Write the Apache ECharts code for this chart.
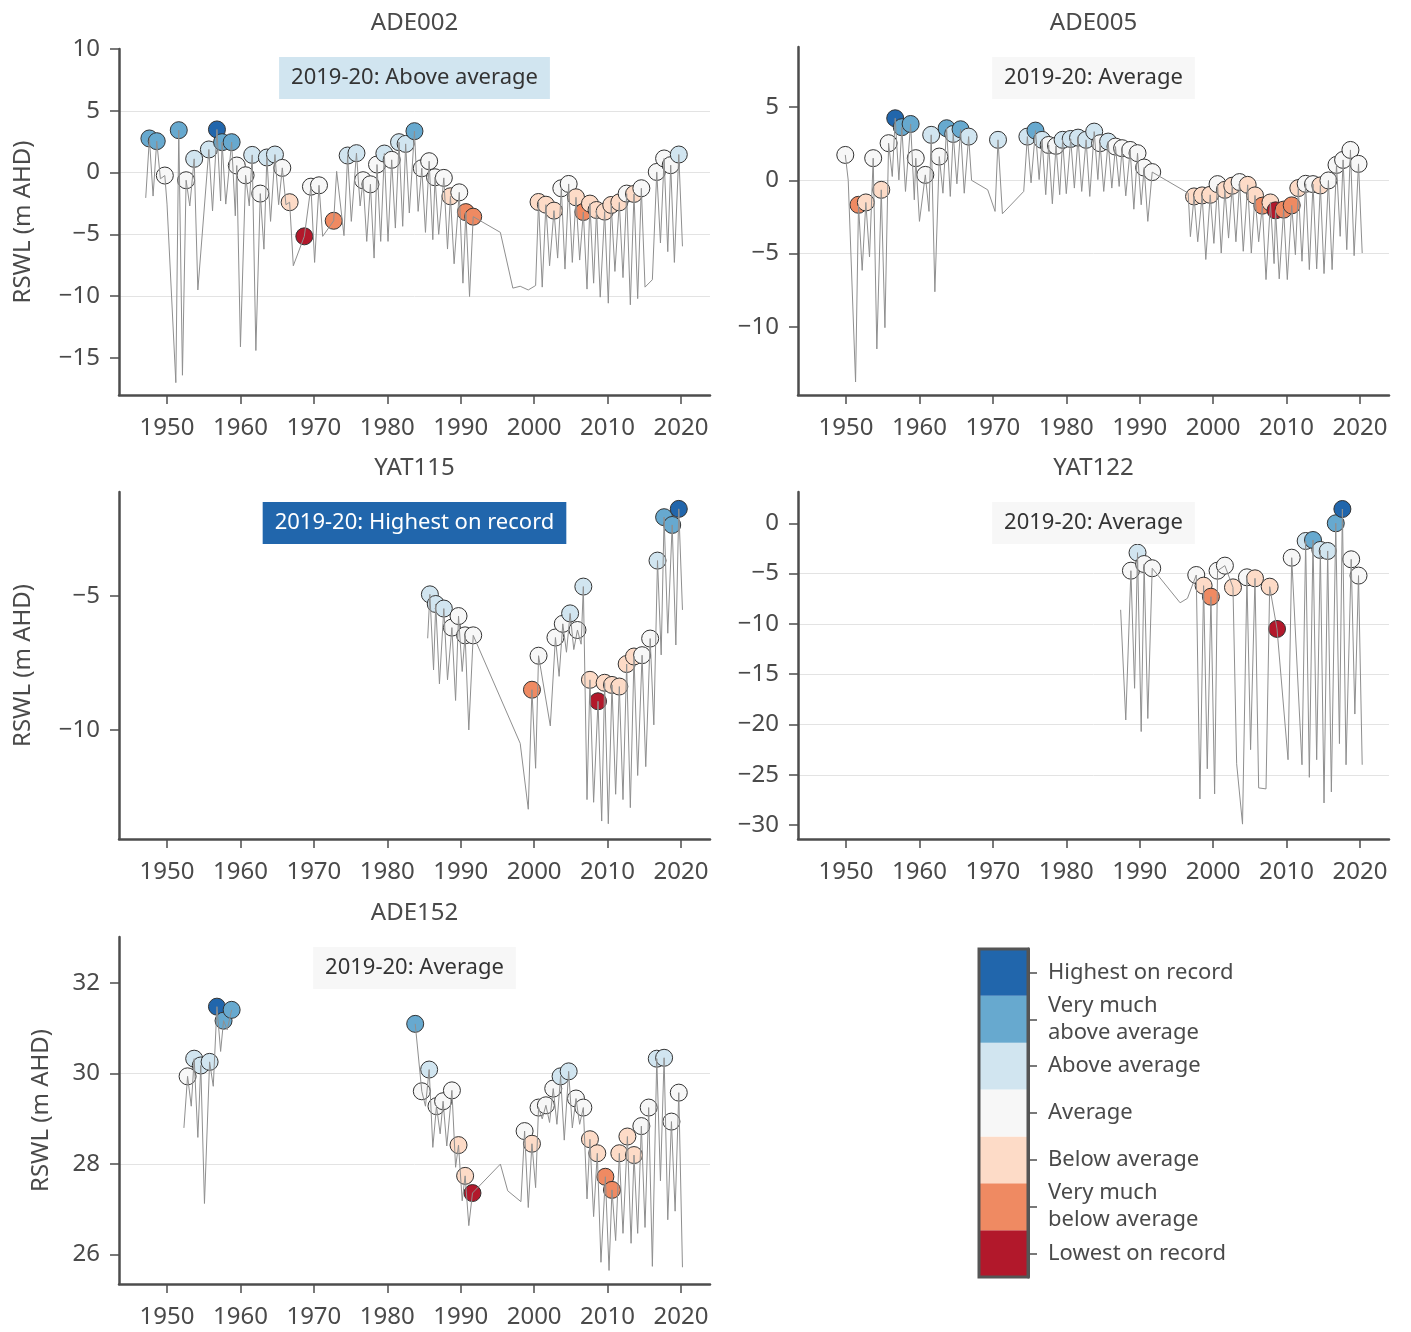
<!DOCTYPE html>
<html>
<head>
<meta charset="utf-8">
<script src="https://cdn.jsdelivr.net/npm/echarts@6/dist/echarts.min.js"></script>
<style>
  html, body { margin: 0; padding: 0; background: #fff; }
  #chart { width: 1411px; height: 1332px; }
</style>
</head>
<body>
<div id="chart"></div>
<script>
// ---- Rating classes (lowest -> highest) ----
const classLabels = ['Lowest on record', 'Very much below average', 'Below average', 'Average',
  'Above average', 'Very much above average', 'Highest on record'];
const legendLabels = ['Lowest on record', 'Very much\nbelow average', 'Below average', 'Average',
  'Above average', 'Very much\nabove average', 'Highest on record'];
const latestPeriod = '2019-20';

// ---- Shared tick labels ----
const yearTicks = [1950, 1960, 1970, 1980, 1990, 2000, 2010, 2020];
const ade002Ticks = [-15, -10, -5, 0, 5, 10];
const ade005Ticks = [-10, -5, 0, 5];
const yat115Ticks = [-10, -5];
const yat122Ticks = [-30, -25, -20, -15, -10, -5, 0];
const ade152Ticks = [26, 28, 30, 32];

// ---- ADE002 ----
const ade002Years = [1947.6, 1948.6, 1949.7, 1951.6, 1952.6, 1953.7, 1955.7, 1956.8, 1957.5, 1958.8,
  1959.5, 1960.7, 1961.6, 1962.7, 1963.6, 1964.7, 1965.7, 1966.7, 1968.7, 1969.6,
  1970.7, 1972.7, 1974.6, 1975.8, 1976.7, 1977.7, 1978.6, 1979.6, 1980.6, 1981.6,
  1982.5, 1983.7, 1984.7, 1985.7, 1986.5, 1987.7, 1988.6, 1989.8, 1990.7, 1991.7,
  2000.6, 2001.6, 2002.7, 2003.7, 2004.7, 2005.7, 2006.7, 2007.6, 2008.5, 2009.6,
  2010.5, 2011.6, 2012.6, 2013.6, 2014.6, 2016.7, 2017.7, 2018.6, 2019.7];
const ade002Levels = [2.76, 2.54, -0.24, 3.43, -0.62, 1.11, 1.87, 3.49, 2.46, 2.46,
  0.57, -0.22, 1.43, -1.7, 1.22, 1.46, 0.38, -2.4, -5.16, -1.14,
  -1.03, -3.9, 1.38, 1.57, -0.62, -0.95, 0.65, 1.54, 1.03, 2.46,
  2.32, 3.35, 0.35, 0.92, -0.38, -0.43, -1.92, -1.6, -3.2, -3.57,
  -2.38, -2.6, -3.08, -1.27, -0.92, -2.0, -3.19, -2.51, -3.03, -3.16,
  -2.62, -2.41, -1.7, -1.73, -1.27, 0.05, 1.14, 0.6, 1.46];
const ade002Lows = [-1.9, -0.5, null, -16.4, -2.7, -9.5, -3.1, -2.3, -2.55, -3.5,
  -14.1, -2.7, -14.4, -6.2, -3.95, -2.6, -2.6, -7.54, null, -7.27,
  -5.16, null, -3.95, -2.7, -5.57, -6.92, -5.57, -5.57, -4.49, -4.35,
  -3.27, -3.14, -4.84, -5.43, -5.0, -6.19, -7.38, -8.95, -10.03, null,
  -9.27, -7.54, -6.92, -7.81, -7.27, -7.08, -9.43, -8.95, -10.08, -10.57,
  -8.0, -8.5, -10.7, -10.2, -9.27, -5.7, -6.4, -7.27, -5.97];
const ade002Classes = [5, 5, 3, 5, 3, 4, 4, 6, 5, 5,
  3, 3, 4, 3, 4, 4, 3, 2, 0, 3,
  3, 1, 4, 4, 3, 3, 3, 4, 3, 4,
  4, 5, 3, 3, 3, 3, 2, 3, 1, 1,
  2, 2, 2, 3, 3, 2, 1, 2, 2, 2,
  2, 2, 3, 2, 3, 3, 3, 3, 4];
const ade002Extra = [[1947.1, -2.05], [1950.0, -2.55], [1951.2, -17.0], [1973.1, 0.1], [1974.1, -5.1],
  [1995.4, -4.84], [1997.1, -9.35], [1998.1, -9.2], [1999.2, -9.5], [2000.2, -9.14], [2016.1, -8.67]];

// ---- ADE005 ----
const ade005Years = [1949.9, 1951.7, 1952.7, 1953.7, 1954.8, 1955.8, 1956.7, 1957.6, 1958.8, 1959.5,
  1960.8, 1961.6, 1962.7, 1963.7, 1964.6, 1965.6, 1966.7, 1970.7, 1974.7, 1975.8,
  1976.7, 1977.6, 1978.6, 1979.5, 1980.6, 1981.6, 1982.7, 1983.8, 1984.6, 1985.7,
  1986.7, 1987.6, 1988.7, 1989.7, 1990.6, 1991.7, 1997.4, 1998.5, 1999.6, 2000.6,
  2001.6, 2002.6, 2003.6, 2004.7, 2005.7, 2006.7, 2007.8, 2008.5, 2009.6, 2010.7,
  2011.6, 2012.6, 2013.6, 2014.6, 2015.7, 2016.8, 2017.7, 2018.7, 2019.8];
const ade005Levels = [1.73, -1.67, -1.51, 1.51, -0.65, 2.53, 4.23, 3.62, 3.84, 1.51,
  0.37, 3.1, 1.62, 3.55, 3.16, 3.48, 2.98, 2.76, 2.98, 3.39,
  2.76, 2.41, 2.35, 2.76, 2.82, 2.91, 2.76, 3.32, 2.53, 2.64,
  2.3, 2.19, 2.07, 1.85, 0.87, 0.56, -1.1, -1.03, -0.99, -0.26,
  -0.65, -0.37, -0.12, -0.31, -1.03, -1.73, -1.51, -2.05, -2.0, -1.71,
  -0.53, -0.24, -0.26, -0.35, -0.01, 1.05, 1.39, 2.07, 1.12];
const ade005Lows = [null, -6.14, -5.23, -11.5, -10.05, 0.26, 0.03, -0.76, -1.33, -2.8,
  -2.12, -7.6, -0.88, -1.1, -0.24, -0.88, null, null, -0.17, 0.05,
  -0.98, -1.6, -0.98, -0.91, -0.53, -0.76, -1.1, 0.05, -0.76, -0.53,
  -0.42, -1.06, -1.97, -1.67, -2.8, null, -4.19, -5.4, -4.3, -4.96,
  -3.94, -4.19, -4.84, -4.96, -4.19, -6.77, -5.68, -6.72, -6.77, -5.07,
  -5.52, -6.09, -6.04, -6.36, -6.09, -3.82, -4.73, -5.14, -4.96];
const ade005Classes = [3, 1, 2, 3, 2, 3, 6, 5, 5, 3,
  3, 4, 3, 5, 4, 5, 4, 4, 4, 5,
  4, 3, 3, 4, 4, 4, 4, 4, 3, 4,
  3, 3, 3, 3, 3, 3, 2, 2, 2, 3,
  2, 2, 3, 2, 2, 1, 2, 0, 1, 1,
  2, 3, 3, 2, 3, 3, 3, 3, 3];
const ade005Extra = [[1950.3, 0.0], [1951.3, -13.75], [1967.1, 0.0], [1969.3, -0.65], [1970.3, -2.12],
  [1971.3, -2.28], [1974.2, -0.76], [1996.6, -0.87], [1996.9, -3.84]];

// ---- YAT115 ----
const yat115Years = [1985.8, 1986.6, 1987.7, 1988.8, 1989.7, 1990.6, 1991.7, 1999.7, 2000.6, 2002.9,
  2003.9, 2004.9, 2005.9, 2006.7, 2007.6, 2008.7, 2009.6, 2010.6, 2011.6, 2012.6,
  2013.6, 2014.7, 2015.8, 2016.8, 2017.7, 2018.8, 2019.7];
const yat115Levels = [-4.94, -5.3, -5.47, -6.18, -5.75, -6.47, -6.47, -8.5, -7.23, -6.55,
  -6.04, -5.65, -6.27, -4.65, -8.13, -8.93, -8.24, -8.32, -8.38, -7.54,
  -7.26, -7.21, -6.59, -3.68, -2.06, -2.35, -1.75];
const yat115Lows = [-7.76, -8.28, -8.13, -8.9, -7.82, -10.0, null, -11.43, null, -8.0,
  -7.1, -7.0, -6.8, -12.6, -12.7, -13.4, -13.5, -12.4, -12.6, -12.9,
  -11.7, -11.37, -9.81, -7.2, -6.39, -6.83, -5.52];
const yat115Classes = [4, 4, 4, 3, 3, 3, 3, 1, 3, 3,
  3, 4, 3, 4, 2, 0, 2, 2, 2, 2,
  2, 3, 3, 4, 5, 5, 6];
const yat115Extra = [[1985.5, -6.58], [1998.1, -10.5], [1999.2, -12.96], [2002.2, -9.85]];

// ---- YAT122 ----
const yat122Years = [1988.8, 1989.7, 1990.6, 1991.7, 1997.7, 1998.7, 1999.7, 2000.6, 2001.6, 2002.7,
  2004.6, 2005.7, 2007.7, 2008.7, 2010.7, 2012.6, 2013.6, 2014.6, 2015.6, 2016.7,
  2017.6, 2018.8, 2019.8];
const yat122Levels = [-4.71, -2.92, -4.05, -4.47, -5.14, -6.2, -7.3, -4.71, -4.21, -6.37,
  -5.37, -5.47, -6.3, -10.5, -3.42, -1.76, -1.66, -2.65, -2.75, 0.0,
  1.42, -3.58, -5.2];
const yat122Lows = [-16.4, -20.7, -19.4, null, -27.4, -24.4, -26.9, null, null, null,
  -22.5, null, null, null, null, -25.25, -23.5, -27.8, -26.7, -21.9,
  -24.0, -18.96, -24.0];
const yat122Classes = [3, 4, 3, 3, 3, 2, 1, 3, 3, 2,
  3, 2, 2, 0, 3, 4, 5, 4, 4, 5,
  6, 3, 3];
const yat122Extra = [[1987.4, -8.6], [1988.1, -19.55], [1995.5, -7.9], [1996.5, -7.46], [2003.2, -23.9],
  [2004.0, -29.9], [2006.2, -26.3], [2007.2, -26.4], [2010.2, -23.5], [2012.1, -24.0]];

// ---- ADE152 ----
const ade152Years = [1952.8, 1953.7, 1954.6, 1955.8, 1956.8, 1957.7, 1958.8,
  1983.8, 1984.7, 1985.7, 1986.7, 1987.6, 1988.8, 1989.7, 1990.6, 1991.6,
  1998.7, 1999.7, 2000.6, 2001.6, 2002.6, 2003.6, 2004.7, 2005.7, 2006.7, 2007.6,
  2008.6, 2009.7, 2010.6, 2011.6, 2012.7, 2013.6, 2014.6, 2015.6, 2016.7, 2017.7,
  2018.7, 2019.7];
const ade152Levels = [29.94, 30.33, 30.18, 30.26, 31.48, 31.17, 31.41,
  31.1, 29.61, 30.09, 29.28, 29.39, 29.63, 28.42, 27.74, 27.36,
  28.73, 28.45, 29.25, 29.3, 29.67, 29.94, 30.05, 29.45, 29.25, 28.55,
  28.24, 27.72, 27.43, 28.24, 28.61, 28.2, 28.84, 29.25, 30.33, 30.35,
  28.94, 29.58];
const ade152Lows = [29.28, 28.59, 27.13, 29.72, 30.49, 30.97, null,
  null, 29.28, 28.37, 28.67, 28.4, 27.93, 27.19, 26.64, null,
  27.04, 27.48, 29.0, 28.92, 28.88, 28.53, 28.8, 28.88, 27.23, 26.84,
  25.83, 25.65, 26.31, 26.47, 26.25, 26.47, 26.6, 25.74, 27.63, 26.77,
  26.96, 25.72];
const ade152Classes = [3, 4, 4, 4, 6, 5, 5,
  5, 3, 4, 3, 3, 3, 2, 2, 0,
  3, 2, 3, 3, 3, 4, 4, 3, 3, 2,
  2, 1, 1, 2, 2, 2, 3, 3, 4, 4,
  3, 3];
const ade152Extra = [[1952.3, 28.8], [1971, '-'], [1995.4, 28.0], [1996.4, 27.41], [1998.2, 27.17]];

// ---- Styling ----
const palette = ['#b2182b', '#ef8a62', '#fddbc7', '#f7f7f7', '#d1e5f0', '#67a9cf', '#2166ac'];
const FONT = '"Noto Sans", "Open Sans", "DejaVu Sans", sans-serif';
const TEXT = '#4a4a4a';
const AXIS = '#4d4d4d';
const X_MIN = 1943.46, X_MAX = 2023.95;

const panels = [
  { title: 'ADE002', years: ade002Years, levels: ade002Levels, lows: ade002Lows, classes: ade002Classes,
    extra: ade002Extra, ticks: ade002Ticks, box: { left: 119, top: 49, width: 591, height: 346 },
    yMin: -18, yMax: 10, yName: true, nameGap: 84 },
  { title: 'ADE005', years: ade005Years, levels: ade005Levels, lows: ade005Lows, classes: ade005Classes,
    extra: ade005Extra, ticks: ade005Ticks, box: { left: 798, top: 47, width: 591, height: 348 },
    yMin: -14.64, yMax: 9.09, yName: false },
  { title: 'YAT115', years: yat115Years, levels: yat115Levels, lows: yat115Lows, classes: yat115Classes,
    extra: yat115Extra, ticks: yat115Ticks, box: { left: 119, top: 492, width: 591, height: 347 },
    yMin: -14.07, yMax: -1.12, yName: true, nameGap: 84 },
  { title: 'YAT122', years: yat122Years, levels: yat122Levels, lows: yat122Lows, classes: yat122Classes,
    extra: yat122Extra, ticks: yat122Ticks, box: { left: 798, top: 492, width: 591, height: 347 },
    yMin: -31.38, yMax: 3.11, yName: false },
  { title: 'ADE152', years: ade152Years, levels: ade152Levels, lows: ade152Lows, classes: ade152Classes,
    extra: ade152Extra, ticks: ade152Ticks, box: { left: 119, top: 937, width: 591, height: 347 },
    yMin: 25.35, yMax: 33.02, yName: true, nameGap: 66 }
];

// Hydrograph: annual recovery peaks, the drawdown after each, plus any extra readings.
function hydrograph(p) {
  const pts = [];
  p.years.forEach((y, i) => {
    pts.push([y, p.levels[i]]);
    if (p.lows[i] !== null) pts.push([y + 0.5, p.lows[i]]);
  });
  p.extra.forEach(e => pts.push(e));
  pts.sort((a, b) => a[0] - b[0]);
  return pts;
}

const fmtTick = v => (v < 0 ? '\u2212' + Math.abs(v) : String(v));
const fmtYear = v => String(v);

const grids = [], xAxes = [], yAxes = [], series = [], graphics = [];

panels.forEach((p, i) => {
  grids.push(Object.assign({ containLabel: false }, p.box));
  xAxes.push({
    type: 'value', gridIndex: i, min: X_MIN, max: X_MAX,
    axisLine: { show: true, onZero: false, lineStyle: { color: AXIS, width: 2.5 } },
    axisTick: { show: true, customValues: yearTicks, length: 9, lineStyle: { color: AXIS, width: 1.5 } },
    axisLabel: { customValues: yearTicks, margin: 21, fontSize: 24, color: TEXT, fontFamily: FONT, formatter: fmtYear },
    splitLine: { show: false }
  });
  yAxes.push({
    type: 'value', gridIndex: i, min: p.yMin, max: p.yMax,
    name: p.yName ? 'RSWL (m AHD)' : '', nameLocation: 'middle', nameRotate: 90, nameGap: p.nameGap || 0,
    nameTextStyle: { fontSize: 24, color: TEXT, fontFamily: FONT },
    axisLine: { show: true, onZero: false, lineStyle: { color: AXIS, width: 2.5 } },
    axisTick: { show: true, customValues: p.ticks, length: 9, lineStyle: { color: AXIS, width: 1.5 } },
    axisLabel: { customValues: p.ticks, margin: 19, fontSize: 24, color: TEXT, fontFamily: FONT, formatter: fmtTick },
    splitLine: { show: true, showMinLine: false, showMaxLine: false, lineStyle: { color: '#e3e3e3', width: 1 } }
  });
  series.push({
    type: 'scatter', xAxisIndex: i, yAxisIndex: i, z: 2, symbol: 'circle', symbolSize: 17,
    itemStyle: { borderColor: '#333', borderWidth: 1, opacity: 1 },
    data: p.years.map((y, k) => ({ value: [y, p.levels[k]], itemStyle: { color: palette[p.classes[k]] } })),
    silent: true
  });
  series.push({
    type: 'line', xAxisIndex: i, yAxisIndex: i, z: 3, showSymbol: false, connectNulls: false,
    lineStyle: { color: '#8f8f8f', width: 1 },
    data: hydrograph(p), silent: true
  });

  const cx = p.box.left + p.box.width / 2;
  graphics.push({
    type: 'text', x: cx, y: (i === 0 ? 47 : p.box.top) - 24, z: 10,
    style: { text: p.title, font: '24px ' + FONT, fill: TEXT, align: 'center', verticalAlign: 'middle' }
  });
  const last = p.classes[p.classes.length - 1];
  graphics.push({
    type: 'text', x: cx, y: (i === 0 ? 47 : p.box.top) + 31, z: 10,
    style: {
      text: latestPeriod + ': ' + classLabels[last], font: '22px ' + FONT,
      fill: last === 6 ? '#ffffff' : '#333333', align: 'center', verticalAlign: 'middle',
      backgroundColor: palette[last], padding: [8, 12, 8, 12], lineHeight: 26
    }
  });
});

// Colour key: one band per rating class
const keyIndex = panels.length;
grids.push({ left: 979, top: 949, width: 49, height: 328 });
xAxes.push({ type: 'value', gridIndex: keyIndex, min: 0, max: 1, show: false });
yAxes.push({
  type: 'category', gridIndex: keyIndex, data: legendLabels, position: 'right', z: 10,
  axisLine: { show: true, onZero: false, lineStyle: { color: '#555', width: 3 } },
  axisTick: { show: true, inside: false, interval: 0, alignWithLabel: true, length: 9, lineStyle: { color: AXIS, width: 1.5 } },
  axisLabel: { margin: 20, interval: 0, fontSize: 22, lineHeight: 27, color: TEXT, fontFamily: FONT },
  splitLine: { show: false }
});
series.push({
  type: 'bar', xAxisIndex: keyIndex, yAxisIndex: keyIndex, barWidth: '100%', barCategoryGap: '0%', z: 1,
  data: legendLabels.map((_, k) => ({ value: 1, itemStyle: { color: palette[k] } })), silent: true
});
graphics.push({
  type: 'rect', z: 20, shape: { x: 979, y: 949, width: 49, height: 328 },
  style: { fill: 'none', stroke: '#555', lineWidth: 3 }
});

const chart = echarts.init(document.getElementById('chart'), null, { renderer: 'canvas' });
chart.setOption({
  animation: false,
  backgroundColor: '#ffffff',
  textStyle: { fontFamily: FONT },
  grid: grids, xAxis: xAxes, yAxis: yAxes, series: series,
  graphic: { elements: graphics }
});
</script>
</body>
</html>
